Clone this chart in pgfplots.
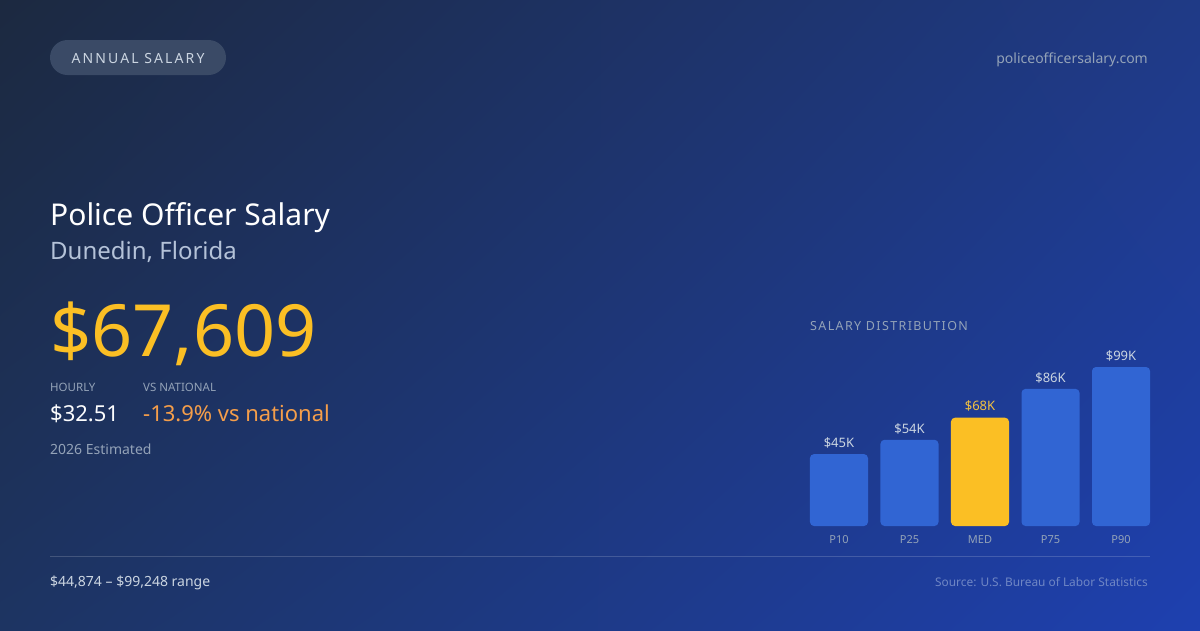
\documentclass[border=0pt]{standalone}
\usepackage{pgfplots}
\pgfplotsset{compat=1.18}
\usetikzlibrary{shadings}
\usepackage{fontspec}
\setmainfont{Noto Sans}
\definecolor{bgTL}{HTML}{1C2940}
\definecolor{bgTR}{HTML}{1F3A86}
\definecolor{bgBL}{HTML}{1D3462}
\definecolor{bgBR}{HTML}{1E40B0}
\definecolor{barblue}{HTML}{3165D3}
\definecolor{baryellow}{HTML}{FBBF24}
\definecolor{muted}{HTML}{94A3B8}
\definecolor{lightt}{HTML}{CBD5E1}
\definecolor{subt}{HTML}{B4C2D8}
\definecolor{orangev}{HTML}{F59E4A}
\definecolor{srcc}{HTML}{6F86C4}
\definecolor{pillc}{HTML}{3A4A66}
\begin{document}
\begin{tikzpicture}[x=1pt,y=-1pt]
\shade[upper left=bgTL, upper right=bgTR, lower left=bgBL, lower right=bgBR] (0,0) rectangle (1200,630);
% pill
\fill[pillc, rounded corners=17.5pt] (50,40) rectangle (226,75);
\node[anchor=base, text=lightt, inner sep=0] at (138,63) {\fontsize{14}{16}\selectfont\addfontfeature{LetterSpace=15}ANNUAL SALARY};
\node[anchor=base east, text=muted, inner sep=0] at (1148,63) {\fontsize{14}{16}\selectfont policeofficersalary.com};
% titles
\node[anchor=base west, text=white, inner sep=0] at (50,225) {\fontsize{30}{36}\selectfont Police Officer Salary};
\node[anchor=base west, text=subt, inner sep=0] at (50,259) {\fontsize{24}{28}\selectfont Dunedin, Florida};
\node[anchor=base west, text=baryellow, inner sep=0] at (50,356) {\fontsize{72}{80}\selectfont \$67,609};
\node[anchor=base west, text=muted, inner sep=0] at (50,391) {\fontsize{11.5}{14}\selectfont HOURLY};
\node[anchor=base west, text=muted, inner sep=0] at (143,391) {\fontsize{11.5}{14}\selectfont VS NATIONAL};
\node[anchor=base west, text=white!92!lightt, inner sep=0] at (50,421) {\fontsize{22}{26}\selectfont \$32.51};
\node[anchor=base west, text=orangev, inner sep=0] at (143,421) {\fontsize{22}{26}\selectfont -13.9\% vs national};
\node[anchor=base west, text=muted, inner sep=0] at (50,454) {\fontsize{14}{16}\selectfont 2026 Estimated};
\node[anchor=base west, text=muted, inner sep=0] at (810,330) {\fontsize{12.5}{15}\selectfont\addfontfeature{LetterSpace=11}SALARY DISTRIBUTION};
% rule
\draw[white, opacity=0.17, line width=1pt] (50,556) -- (1150,556);
\node[anchor=base west, text=lightt, inner sep=0] at (50,586) {\fontsize{14}{16}\selectfont \$44,874 -- \$99,248 range};
\node[anchor=base east, text=srcc, inner sep=0] at (1148,586) {\fontsize{11.9}{14}\selectfont Source: U.S. Bureau of Labor Statistics};
% chart
\begin{axis}[
  at={(810pt,-526pt)}, anchor=south west,
  scale only axis, width=340pt, height=160.2pt,
  xmin=-0.411, xmax=4.411, ymin=0, ymax=100000,
  axis line style={draw=none}, major tick length=0pt,
  ytick=\empty, xtick={0,1,2,3,4},
  xticklabels={P10,P25,MED,P75,P90},
  xticklabel style={font=\fontsize{11}{13}\selectfont, text=muted, yshift=-6pt},
  ybar, bar width=0.823, bar shift=0pt,
  point meta=explicit symbolic,
  nodes near coords,
  every node near coord/.append style={font=\fontsize{13}{15}\selectfont, text=lightt, yshift=2.5pt},
  clip=false,
]
\addplot[fill=barblue, draw=none, rounded corners=4pt] coordinates {(0,44874)[\$45K] (1,53800)[\$54K] (3,85600)[\$86K] (4,99248)[\$99K]};
\addplot[fill=baryellow, draw=none, rounded corners=4pt, every node near coord/.append style={text=baryellow!85!lightt}] coordinates {(2,67609)[\$68K]};
\end{axis}
\end{tikzpicture}
\end{document}
